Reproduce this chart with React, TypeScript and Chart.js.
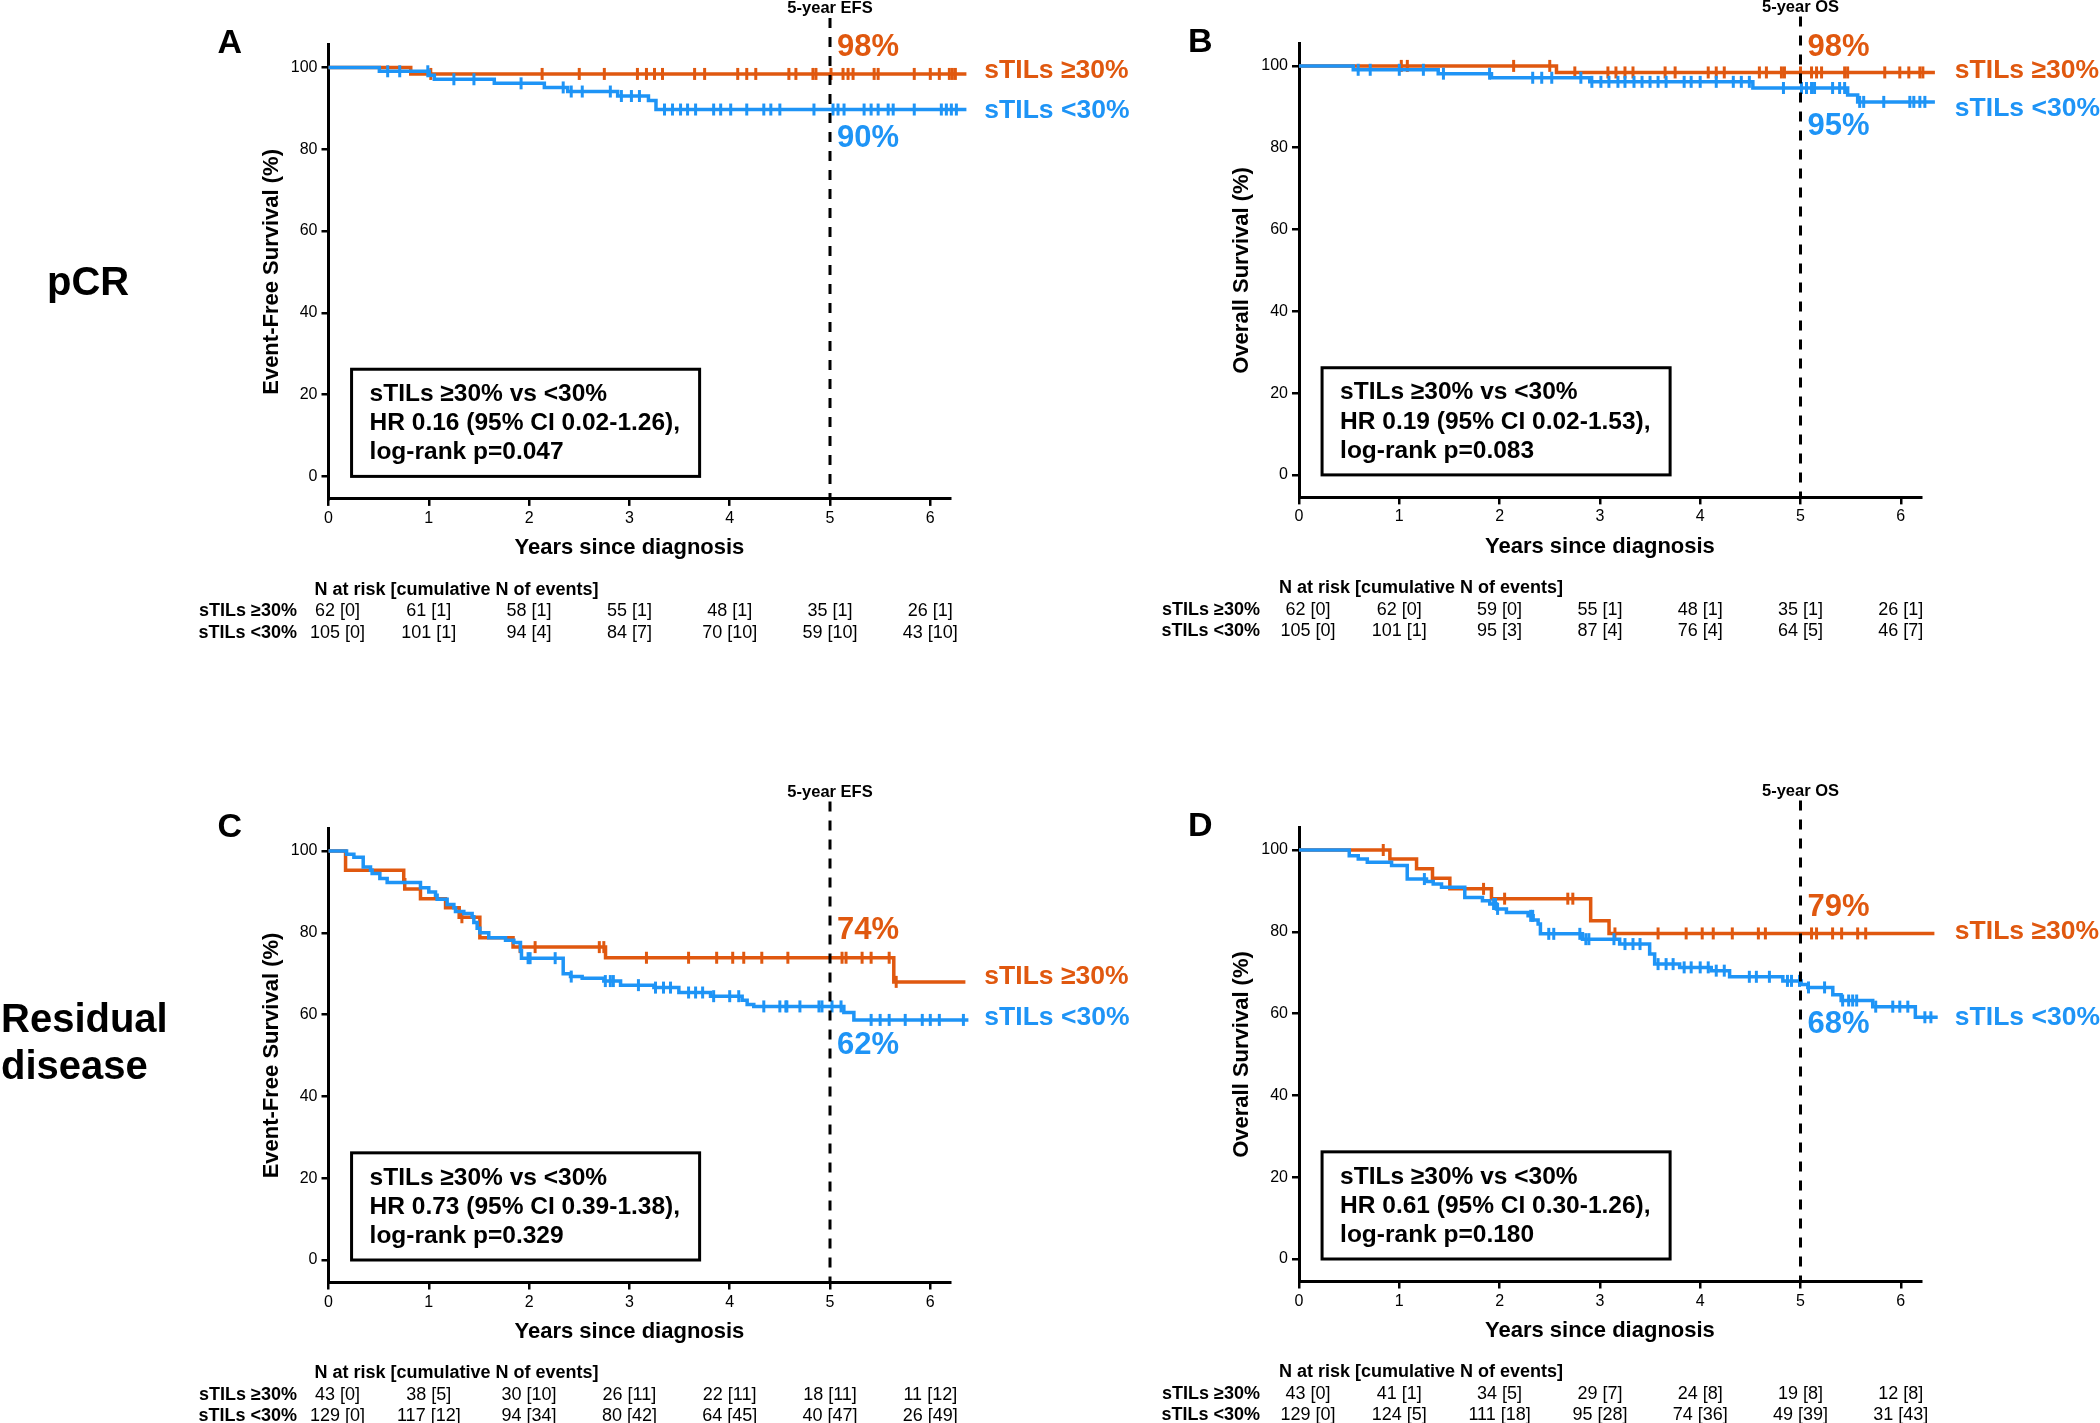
import React, { useEffect, useRef } from 'react';
import { Chart, registerables } from 'chart.js';

Chart.register(...registerables);

const FONT = '"Liberation Sans", Arial, Helvetica, sans-serif';
Chart.defaults.font.family = FONT;

const ORANGE = '#E0580F';
const BLUE = '#1E94F6';

// ---------- axis ticks ----------
const yearTicks = [0, 1, 2, 3, 4, 5, 6];
const survTicks = [0, 20, 40, 60, 80, 100];
const riskYears = [0, 1, 2, 3, 4, 5, 6];

// ---------- Panel A: pCR, EFS ----------
const aHighT = [0, 0.82];
const aHighS = [100, 98.4];
const aHighEnd = 6.36;
const aHighCens = [1.02, 2.13, 2.5, 2.75, 3.08, 3.17, 3.25, 3.33, 3.65, 3.75, 4.08, 4.17, 4.26, 4.59, 4.66, 4.83, 4.86, 5.01, 5.13, 5.18, 5.23, 5.44, 5.48, 5.84, 6.0, 6.09, 6.19, 6.22, 6.25];
const aLowT = [0, 0.507, 1.005, 1.055, 1.653, 2.152, 2.385, 2.883, 3.19, 3.265];
const aLowS = [100, 99.05, 98.1, 97.1, 96.1, 95.1, 94.1, 93.0, 91.9, 89.7];
const aLowEnd = 6.36;
const aLowCens = [0.59, 0.71, 0.99, 1.25, 1.45, 1.92, 2.34, 2.42, 2.53, 2.81, 2.92, 3.02, 3.1, 3.35, 3.43, 3.51, 3.58, 3.66, 3.84, 3.91, 4.01, 4.17, 4.34, 4.41, 4.5, 4.84, 5.03, 5.08, 5.14, 5.34, 5.41, 5.48, 5.58, 5.63, 5.84, 6.11, 6.16, 6.21, 6.26];
const aRiskHigh = ['62 [0]', '61 [1]', '58 [1]', '55 [1]', '48 [1]', '35 [1]', '26 [1]'];
const aRiskLow = ['105 [0]', '101 [1]', '94 [4]', '84 [7]', '70 [10]', '59 [10]', '43 [10]'];
const aStats = ['sTILs \u226530% vs <30%', 'HR 0.16 (95% CI 0.02-1.26),', 'log-rank p=0.047'];
const aPct = ['98%', '90%'];

// ---------- Panel B: pCR, OS ----------
const bHighT = [0, 2.567];
const bHighS = [100, 98.4];
const bHighEnd = 6.34;
const bHighCens = [1.02, 1.08, 2.14, 2.5, 2.75, 3.08, 3.16, 3.25, 3.33, 3.65, 3.75, 4.08, 4.16, 4.24, 4.59, 4.66, 4.81, 4.84, 5.0, 5.11, 5.16, 5.21, 5.44, 5.47, 5.84, 5.99, 6.08, 6.19, 6.22];
const bLowT = [0, 0.541, 1.388, 1.919, 2.899, 4.525, 5.47, 5.57];
const bLowS = [100, 99.05, 98.1, 97.1, 96.1, 94.6, 92.9, 91.2];
const bLowEnd = 6.34;
const bLowCens = [0.59, 0.71, 1.0, 1.24, 1.44, 1.9, 2.33, 2.42, 2.52, 2.81, 2.92, 3.01, 3.09, 3.18, 3.25, 3.34, 3.42, 3.5, 3.58, 3.66, 3.84, 3.91, 4.0, 4.16, 4.33, 4.41, 4.49, 4.83, 5.01, 5.06, 5.11, 5.14, 5.32, 5.39, 5.44, 5.59, 5.63, 5.83, 6.09, 6.13, 6.19, 6.24];
const bRiskHigh = ['62 [0]', '62 [0]', '59 [0]', '55 [1]', '48 [1]', '35 [1]', '26 [1]'];
const bRiskLow = ['105 [0]', '101 [1]', '95 [3]', '87 [4]', '76 [4]', '64 [5]', '46 [7]'];
const bStats = ['sTILs \u226530% vs <30%', 'HR 0.19 (95% CI 0.02-1.53),', 'log-rank p=0.083'];
const bPct = ['98%', '95%'];

// ---------- Panel C: residual disease, EFS ----------
const cHighT = [0, 0.17, 0.75, 0.76, 0.917, 1.167, 1.303, 1.509, 1.84, 2.762, 5.636];
const cHighS = [100, 95.3, 93.0, 90.7, 88.3, 86.1, 83.8, 78.8, 76.5, 73.9, 68.0];
const cHighEnd = 6.35;
const cHighCens = [1.33, 1.91, 2.06, 2.7, 2.745, 3.17, 3.59, 3.87, 4.03, 4.14, 4.32, 4.58, 5.12, 5.16, 5.32, 5.41, 5.59, 5.66];
const cLowT = [0, 0.18, 0.253, 0.346, 0.419, 0.435, 0.512, 0.585, 0.917, 1.0, 1.067, 1.083, 1.183, 1.25, 1.266, 1.349, 1.432, 1.449, 1.482, 1.509, 1.598, 1.765, 1.848, 1.914, 1.924, 2.34, 2.413, 2.529, 2.745, 2.912, 3.244, 3.493, 3.809, 4.124, 4.174, 4.24, 5.138, 5.238];
const cLowS = [100, 99.2, 98.5, 96.1, 95.3, 94.5, 93.3, 92.3, 91.0, 90.0, 89.2, 88.2, 86.9, 86.1, 85.2, 84.7, 83.9, 82.5, 81.1, 80.0, 78.8, 78.2, 77.6, 75.6, 73.8, 70.0, 69.3, 68.9, 68.2, 67.2, 66.6, 65.4, 64.5, 63.5, 62.5, 62.0, 60.5, 58.7];
const cLowEnd = 6.38;
const cLowCens = [1.99, 2.01, 2.26, 2.42, 2.76, 2.81, 2.84, 3.09, 3.26, 3.34, 3.41, 3.59, 3.66, 3.73, 3.84, 4.0, 4.09, 4.34, 4.5, 4.56, 4.57, 4.7, 4.89, 4.92, 5.02, 5.11, 5.41, 5.5, 5.59, 5.75, 5.92, 6.0, 6.09, 6.33];
const cRiskHigh = ['43 [0]', '38 [5]', '30 [10]', '26 [11]', '22 [11]', '18 [11]', '11 [12]'];
const cRiskLow = ['129 [0]', '117 [12]', '94 [34]', '80 [42]', '64 [45]', '40 [47]', '26 [49]'];
const cStats = ['sTILs \u226530% vs <30%', 'HR 0.73 (95% CI 0.39-1.38),', 'log-rank p=0.329'];
const cPct = ['74%', '62%'];

// ---------- Panel D: residual disease, OS ----------
const dHighT = [0, 0.906, 1.172, 1.331, 1.504, 1.919, 2.908, 3.091];
const dHighS = [100, 97.8, 95.4, 93.1, 90.5, 88.1, 82.7, 79.6];
const dHighEnd = 6.335;
const dHighCens = [0.84, 1.84, 2.05, 2.68, 2.73, 3.15, 3.58, 3.86, 4.02, 4.13, 4.32, 4.58, 4.65, 5.11, 5.16, 5.32, 5.41, 5.57, 5.65];
const dLowT = [0, 0.501, 0.591, 0.681, 0.923, 1.079, 1.271, 1.338, 1.421, 1.653, 1.829, 1.902, 1.969, 2.068, 2.284, 2.334, 2.384, 2.407, 2.826, 3.197, 3.496, 3.546, 3.795, 4.11, 4.293, 4.824, 5.007, 5.073, 5.322, 5.405, 5.72, 6.145];
const dLowS = [100, 98.6, 97.8, 97.0, 96.2, 92.9, 92.3, 91.7, 90.9, 88.4, 87.6, 86.8, 85.6, 84.7, 83.9, 82.9, 81.9, 79.5, 78.2, 77.0, 74.6, 72.1, 71.3, 70.5, 69.0, 68.0, 67.1, 66.4, 64.6, 63.2, 61.7, 59.1];
const dLowEnd = 6.368;
const dLowCens = [1.25, 1.94, 1.96, 1.98, 2.31, 2.33, 2.49, 2.54, 2.8, 2.86, 2.89, 3.14, 3.25, 3.33, 3.4, 3.58, 3.66, 3.73, 3.84, 3.91, 4.0, 4.08, 4.16, 4.24, 4.49, 4.56, 4.69, 4.87, 4.91, 4.99, 5.08, 5.24, 5.42, 5.48, 5.52, 5.56, 5.75, 5.92, 5.99, 6.07, 6.24, 6.3];
const dRiskHigh = ['43 [0]', '41 [1]', '34 [5]', '29 [7]', '24 [8]', '19 [8]', '12 [8]'];
const dRiskLow = ['129 [0]', '124 [5]', '111 [18]', '95 [28]', '74 [36]', '49 [39]', '31 [43]'];
const dStats = ['sTILs \u226530% vs <30%', 'HR 0.61 (95% CI 0.30-1.26),', 'log-rank p=0.180'];
const dPct = ['79%', '68%'];

const groupLabels = ['sTILs \u226530%', 'sTILs <30%'];
const riskHeader = 'N at risk [cumulative N of events]';
const xTitle = 'Years since diagnosis';

// ---------- layout constants ----------
const PX_X = 100.3; // px per year
const PX_Y = 4.09; // px per % point
const Y_MIN = -5.5;
const Y_MAX = 105.5;
const X_MAX = 6.2;
const HX = 60;

type Curve = { t: number[]; s: number[]; end: number; cens: number[] };
type Panel = {
  key: string;
  letter: string;
  rowLabel: string[];
  rowLabelX: number;
  rowLabelY: number[];
  endpoint: string;
  yTitle: string;
  high: Curve;
  low: Curve;
  pct: string[];
  pctY: number[];
  legY: number[];
  riskHigh: string[];
  riskLow: string[];
  stats: string[];
  canvas: { left: number; top: number; w: number; h: number };
  x0: number;
  y100: number;
  riskHeaderDx: number;
  riskLabelDx: number;
};

const panels: Panel[] = [
  {
    key: 'A', letter: 'A', rowLabel: ['pCR'], rowLabelX: 47, rowLabelY: [295],
    endpoint: '5-year EFS', yTitle: 'Event-Free Survival (%)',
    high: { t: aHighT, s: aHighS, end: aHighEnd, cens: aHighCens },
    low: { t: aLowT, s: aLowS, end: aLowEnd, cens: aLowCens },
    pct: aPct, pctY: [104.9, 82.7], legY: [99.2, 89.3],
    riskHigh: aRiskHigh, riskLow: aRiskLow, stats: aStats,
    canvas: { left: 0, top: 0, w: 1150, h: 700 }, x0: 328.5, y100: 67.4,
    riskHeaderDx: -14, riskLabelDx: -31.5,
  },
  {
    key: 'B', letter: 'B', rowLabel: [], rowLabelX: 0, rowLabelY: [],
    endpoint: '5-year OS', yTitle: 'Overall Survival (%)',
    high: { t: bHighT, s: bHighS, end: bHighEnd, cens: bHighCens },
    low: { t: bLowT, s: bLowS, end: bLowEnd, cens: bLowCens },
    pct: bPct, pctY: [104.5, 85.3], legY: [98.9, 89.6],
    riskHigh: bRiskHigh, riskLow: bRiskLow, stats: bStats,
    canvas: { left: 1150, top: 0, w: 950, h: 700 }, x0: 1299, y100: 65.9,
    riskHeaderDx: -20, riskLabelDx: -39,
  },
  {
    key: 'C', letter: 'C', rowLabel: ['Residual', 'disease'], rowLabelX: 1, rowLabelY: [1032, 1079],
    endpoint: '5-year EFS', yTitle: 'Event-Free Survival (%)',
    high: { t: cHighT, s: cHighS, end: cHighEnd, cens: cHighCens },
    low: { t: cLowT, s: cLowS, end: cLowEnd, cens: cLowCens },
    pct: cPct, pctY: [80.6, 52.5], legY: [69.3, 59.3],
    riskHigh: cRiskHigh, riskLow: cRiskLow, stats: cStats,
    canvas: { left: 0, top: 700, w: 1150, h: 723 }, x0: 328.5, y100: 851,
    riskHeaderDx: -14, riskLabelDx: -31.5,
  },
  {
    key: 'D', letter: 'D', rowLabel: [], rowLabelX: 0, rowLabelY: [],
    endpoint: '5-year OS', yTitle: 'Overall Survival (%)',
    high: { t: dHighT, s: dHighS, end: dHighEnd, cens: dHighCens },
    low: { t: dLowT, s: dLowS, end: dLowEnd, cens: dLowCens },
    pct: dPct, pctY: [86.0, 57.4], legY: [80.0, 59.1],
    riskHigh: dRiskHigh, riskLow: dRiskLow, stats: dStats,
    canvas: { left: 1150, top: 700, w: 950, h: 723 }, x0: 1299, y100: 850,
    riskHeaderDx: -20, riskLabelDx: -39,
  },
];

function stepValue(c: Curve, t: number) {
  let v = c.s[0];
  for (let i = 0; i < c.t.length; i++) if (c.t[i] <= t) v = c.s[i];
  return v;
}
function curvePoints(c: Curve) {
  const pts = c.t.map((t, i) => ({ x: t, y: c.s[i] }));
  pts.push({ x: c.end, y: c.s[c.s.length - 1] });
  return pts;
}
function censorPoints(c: Curve) {
  return c.cens.map((t) => ({ x: t, y: stepValue(c, t) }));
}

function txt(ctx: CanvasRenderingContext2D, s: string, x: number, y: number, font: string, color: string, align: CanvasTextAlign, baseline: CanvasTextBaseline = 'middle') {
  ctx.font = font;
  ctx.fillStyle = color;
  ctx.textAlign = align;
  ctx.textBaseline = baseline;
  ctx.fillText(s, x, y);
}

function overlay(p: Panel) {
  return {
    id: 'overlay' + p.key,
    afterDatasetsDraw(chart: any) {
      const { ctx, chartArea, scales } = chart;
      const x5 = scales.x.getPixelForValue(5);
      ctx.save();
      ctx.strokeStyle = '#000';
      ctx.lineWidth = 3;
      ctx.setLineDash([10, 9]);
      ctx.beginPath();
      ctx.moveTo(x5, chartArea.top - 27);
      ctx.lineTo(x5, chartArea.bottom);
      ctx.stroke();
      ctx.restore();
    },
    afterDraw(chart: any) {
      const { ctx, chartArea, scales } = chart;
      const xs = scales.x;
      const ys = scales.y;
      const x5 = xs.getPixelForValue(5);
      ctx.save();
      // endpoint label
      txt(ctx, p.endpoint, x5, chartArea.top - 36, `bold 16.5px ${FONT}`, '#000', 'center');
      // 5-year percentages
      txt(ctx, p.pct[0], x5 + 7, ys.getPixelForValue(p.pctY[0]), `bold 31px ${FONT}`, ORANGE, 'left');
      txt(ctx, p.pct[1], x5 + 7, ys.getPixelForValue(p.pctY[1]), `bold 31px ${FONT}`, BLUE, 'left');
      // group labels at curve ends
      txt(ctx, groupLabels[0], chartArea.right + 34, ys.getPixelForValue(p.legY[0]), `bold 26.5px ${FONT}`, ORANGE, 'left');
      txt(ctx, groupLabels[1], chartArea.right + 34, ys.getPixelForValue(p.legY[1]), `bold 26.5px ${FONT}`, BLUE, 'left');
      // stats box
      const bx0 = xs.getPixelForValue(0.23);
      const bx1 = xs.getPixelForValue(3.7);
      const by0 = ys.getPixelForValue(26.2);
      const by1 = ys.getPixelForValue(0);
      ctx.strokeStyle = '#000';
      ctx.lineWidth = 3;
      ctx.strokeRect(bx0, by0, bx1 - bx0, by1 - by0);
      const lineOff = [25, 54.5, 83.5];
      p.stats.forEach((s, i) => txt(ctx, s, bx0 + 18, by0 + lineOff[i], `bold 24.5px ${FONT}`, '#000', 'left'));
      // panel letter
      txt(ctx, p.letter, chartArea.left - 111, chartArea.top - 1, `bold 34px ${FONT}`, '#000', 'left');
      // row label
      p.rowLabel.forEach((s, i) => txt(ctx, s, p.rowLabelX, p.rowLabelY[i] - p.canvas.top, `bold 40px ${FONT}`, '#000', 'left', 'alphabetic'));
      // x title
      txt(ctx, xTitle, xs.getPixelForValue(3), chartArea.bottom + 49.5, `bold 22px ${FONT}`, '#000', 'center');
      // risk table
      const b = chartArea.bottom;
      txt(ctx, riskHeader, chartArea.left + p.riskHeaderDx, b + 91, `bold 18px ${FONT}`, '#000', 'left');
      txt(ctx, groupLabels[0], chartArea.left + p.riskLabelDx, b + 112.5, `bold 18px ${FONT}`, '#000', 'right');
      txt(ctx, groupLabels[1], chartArea.left + p.riskLabelDx, b + 134, `bold 18px ${FONT}`, '#000', 'right');
      riskYears.forEach((yr, i) => {
        const cx = xs.getPixelForValue(yr) + (yr === 0 ? 9 : 0);
        txt(ctx, p.riskHigh[i], cx, b + 112.5, `18px ${FONT}`, '#000', 'center');
        txt(ctx, p.riskLow[i], cx, b + 134, `18px ${FONT}`, '#000', 'center');
      });
      ctx.restore();
    },
  };
}

function PanelChart({ p }: { p: Panel }) {
  const ref = useRef<HTMLCanvasElement | null>(null);
  useEffect(() => {
    const canvas = ref.current;
    if (!canvas) return;
    const cv = p.canvas;
    const areaLeft = p.x0 - cv.left;
    const areaTop = p.y100 - (Y_MAX - 100) * PX_Y - cv.top;
    const areaH = (Y_MAX - Y_MIN) * PX_Y;
    const areaW = X_MAX * PX_X;
    const titleX = p.x0 - 57 - cv.left;
    const lineDs = (c: Curve, color: string) => ({
      type: 'line' as const,
      data: curvePoints(c),
      borderColor: color,
      borderWidth: 3.5,
      stepped: true,
      tension: 0,
      pointRadius: 0,
      pointHoverRadius: 0,
      fill: false,
      clip: false as any,
    });
    const censDs = (c: Curve, color: string) => ({
      type: 'scatter' as const,
      data: censorPoints(c),
      borderColor: color,
      backgroundColor: color,
      pointStyle: 'line' as const,
      rotation: 90,
      pointRadius: 6,
      pointBorderWidth: 3,
      pointHoverRadius: 30,
      showLine: false,
      clip: false as any,
    });
    const tickGrid = {
      display: true,
      drawOnChartArea: false,
      drawTicks: true,
      tickLength: 7,
      color: '#000',
      lineWidth: 2.5,
    };
    const chart = new Chart(canvas, {
      type: 'line',
      data: {
        datasets: [
          lineDs(p.low, BLUE) as any,
          censDs(p.low, BLUE) as any,
          lineDs(p.high, ORANGE) as any,
          censDs(p.high, ORANGE) as any,
        ],
      },
      options: {
        responsive: false,
        animation: false,
        events: [],
        layout: {
          padding: {
            left: 0,
            top: areaTop,
            right: cv.w - areaLeft - areaW,
            bottom: cv.h - areaTop - areaH - HX,
          },
        },
        plugins: { legend: { display: false }, tooltip: { enabled: false }, title: { display: false } },
        scales: {
          x: {
            type: 'linear',
            bounds: 'data',
            afterDataLimits: (s: any) => { s.min = 0; s.max = X_MAX; },
            afterBuildTicks: (s: any) => { s.ticks = yearTicks.map((v) => ({ value: v })); },
            afterFit: (s: any) => { s.height = HX; },
            grid: tickGrid,
            border: { display: true, color: '#000', width: 3 },
            ticks: { color: '#000', font: { size: 16 }, padding: 3, autoSkip: false, maxRotation: 0 },
          },
          y: {
            type: 'linear',
            min: Y_MIN,
            max: Y_MAX,
            afterBuildTicks: (s: any) => { s.ticks = survTicks.map((v) => ({ value: v })); },
            afterFit: (s: any) => { s.width = areaLeft; },
            grid: tickGrid,
            border: { display: true, color: '#000', width: 3 },
            ticks: { color: '#000', font: { size: 16 }, padding: 4 },
            title: {
              display: true,
              text: p.yTitle,
              color: '#000',
              font: { size: 22, weight: 'bold' },
              padding: { top: titleX - 13.2, bottom: 0 },
            },
          },
        },
      } as any,
      plugins: [overlay(p)],
    });
    return () => chart.destroy();
  }, [p]);
  return (
    <canvas
      ref={ref}
      width={p.canvas.w}
      height={p.canvas.h}
      style={{ position: 'absolute', left: p.canvas.left, top: p.canvas.top, width: p.canvas.w, height: p.canvas.h }}
    />
  );
}

export default function App() {
  return (
    <div style={{ position: 'absolute', left: 0, top: 0, width: 2100, height: 1423, background: '#fff', overflow: 'hidden' }}>
      {panels.map((p) => (
        <PanelChart key={p.key} p={p} />
      ))}
    </div>
  );
}
